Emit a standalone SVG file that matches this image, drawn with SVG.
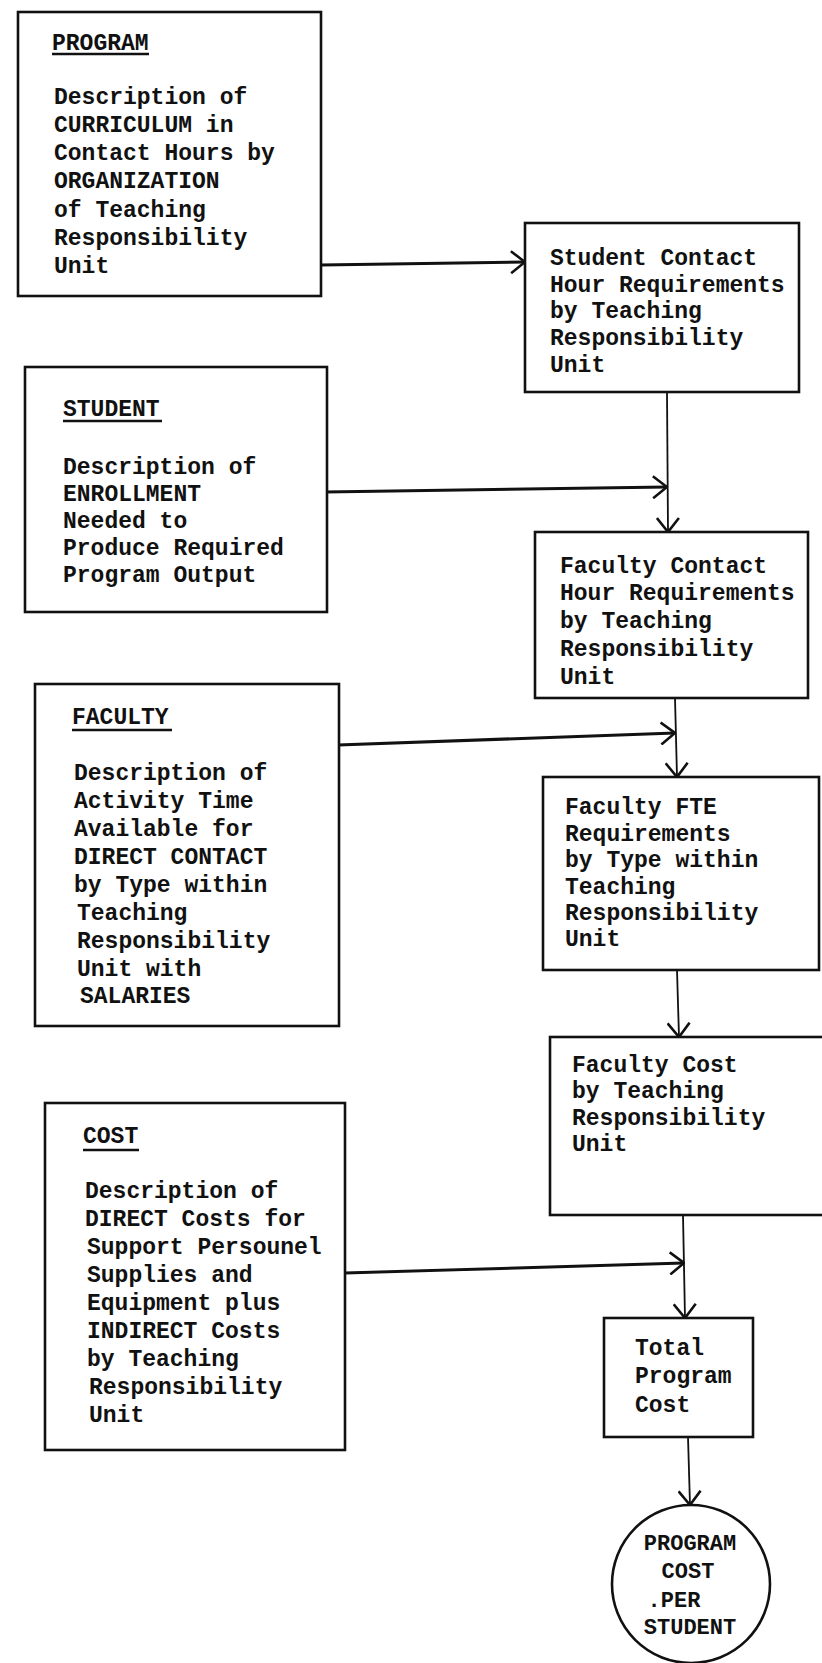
<svg xmlns="http://www.w3.org/2000/svg" width="822" height="1663" viewBox="0 0 822 1663">
<defs>
<style>
.box{fill:#fff;stroke:#111;stroke-width:2.6}
.t{font-family:"Liberation Mono","Courier New",monospace;font-weight:bold;font-size:23px;fill:#111}
.c{font-family:"Liberation Mono","Courier New",monospace;font-weight:bold;font-size:22px;fill:#111;text-anchor:middle}
.ul{stroke:#111;stroke-width:2.5}
.h{fill:none;stroke:#111;stroke-width:3}
.v{fill:none;stroke:#111;stroke-width:1.8}
</style>
<marker id="ah" viewBox="0 0 16 24" refX="15" refY="12" markerWidth="16" markerHeight="24" markerUnits="userSpaceOnUse" orient="auto">
<path d="M1,1 L15,12 L1,23" fill="none" stroke="#111" stroke-width="2.6"/>
</marker>
</defs>
<rect width="822" height="1663" fill="#fff"/>
<g id="connectors">
<line class="h" x1="321" y1="265" x2="525" y2="262" marker-end="url(#ah)"/>
<line class="v" x1="667" y1="392" x2="668" y2="532" marker-end="url(#ah)"/>
<line class="h" x1="325" y1="492" x2="667" y2="487" marker-end="url(#ah)"/>
<line class="v" x1="675" y1="698" x2="677" y2="777" marker-end="url(#ah)"/>
<line class="h" x1="338" y1="745" x2="675" y2="733" marker-end="url(#ah)"/>
<line class="v" x1="677" y1="970" x2="679" y2="1037" marker-end="url(#ah)"/>
<line class="v" x1="683" y1="1215" x2="685" y2="1318" marker-end="url(#ah)"/>
<line class="h" x1="345" y1="1273" x2="684" y2="1263" marker-end="url(#ah)"/>
<line class="v" x1="688" y1="1437" x2="690" y2="1505" marker-end="url(#ah)"/>
</g>
<g id="program">
<rect class="box" x="18" y="12" width="303" height="284"/>
<text class="t" x="52" y="50">PROGRAM</text>
<line class="ul" x1="52" y1="54" x2="149" y2="54"/>
<text class="t" x="54" y="104">Description of</text>
<text class="t" x="54" y="132">CURRICULUM in</text>
<text class="t" x="54" y="160">Contact Hours by</text>
<text class="t" x="54" y="188">ORGANIZATION</text>
<text class="t" x="54" y="217">of Teaching</text>
<text class="t" x="54" y="245">Responsibility</text>
<text class="t" x="54" y="273">Unit</text>
</g>
<g id="student-contact">
<rect class="box" x="525" y="223" width="274" height="169"/>
<text class="t" x="550" y="265">Student Contact</text>
<text class="t" x="550" y="292">Hour Requirements</text>
<text class="t" x="550" y="318">by Teaching</text>
<text class="t" x="550" y="345">Responsibility</text>
<text class="t" x="550" y="372">Unit</text>
</g>
<g id="student">
<rect class="box" x="25" y="367" width="302" height="245"/>
<text class="t" x="63" y="416">STUDENT</text>
<line class="ul" x1="63" y1="421" x2="162" y2="421"/>
<text class="t" x="63" y="474">Description of</text>
<text class="t" x="63" y="501">ENROLLMENT</text>
<text class="t" x="63" y="528">Needed to</text>
<text class="t" x="63" y="555">Produce Required</text>
<text class="t" x="63" y="582">Program Output</text>
</g>
<g id="faculty-contact">
<rect class="box" x="535" y="532" width="273" height="166"/>
<text class="t" x="560" y="573">Faculty Contact</text>
<text class="t" x="560" y="600">Hour Requirements</text>
<text class="t" x="560" y="628">by Teaching</text>
<text class="t" x="560" y="656">Responsibility</text>
<text class="t" x="560" y="684">Unit</text>
</g>
<g id="faculty">
<rect class="box" x="35" y="684" width="304" height="342"/>
<text class="t" x="72" y="724">FACULTY</text>
<line class="ul" x1="72" y1="730" x2="172" y2="730"/>
<text class="t" x="74" y="780">Description of</text>
<text class="t" x="74" y="808">Activity Time</text>
<text class="t" x="74" y="836">Available for</text>
<text class="t" x="74" y="864">DIRECT CONTACT</text>
<text class="t" x="74" y="892">by Type within</text>
<text class="t" x="77" y="920">Teaching</text>
<text class="t" x="77" y="948">Responsibility</text>
<text class="t" x="77" y="976">Unit with</text>
<text class="t" x="80" y="1003">SALARIES</text>
</g>
<g id="faculty-fte">
<rect class="box" x="543" y="777" width="276" height="193"/>
<text class="t" x="565" y="814">Faculty FTE</text>
<text class="t" x="565" y="841">Requirements</text>
<text class="t" x="565" y="867">by Type within</text>
<text class="t" x="565" y="894">Teaching</text>
<text class="t" x="565" y="920">Responsibility</text>
<text class="t" x="565" y="946">Unit</text>
</g>
<g id="faculty-cost">
<rect class="box" x="550" y="1037" width="280" height="178"/>
<text class="t" x="572" y="1072">Faculty Cost</text>
<text class="t" x="572" y="1098">by Teaching</text>
<text class="t" x="572" y="1125">Responsibility</text>
<text class="t" x="572" y="1151">Unit</text>
</g>
<g id="cost">
<rect class="box" x="45" y="1103" width="300" height="347"/>
<text class="t" x="83" y="1143">COST</text>
<line class="ul" x1="83" y1="1150" x2="139" y2="1150"/>
<text class="t" x="85" y="1198">Description of</text>
<text class="t" x="85" y="1226">DIRECT Costs for</text>
<text class="t" x="87" y="1254">Support Persounel</text>
<text class="t" x="87" y="1282">Supplies and</text>
<text class="t" x="87" y="1310">Equipment plus</text>
<text class="t" x="87" y="1338">INDIRECT Costs</text>
<text class="t" x="87" y="1366">by Teaching</text>
<text class="t" x="89" y="1394">Responsibility</text>
<text class="t" x="89" y="1422">Unit</text>
</g>
<g id="total">
<rect class="box" x="604" y="1318" width="149" height="119"/>
<text class="t" x="635" y="1355">Total</text>
<text class="t" x="635" y="1383">Program</text>
<text class="t" x="635" y="1412">Cost</text>
</g>
<g id="per-student">
<circle class="box" cx="691" cy="1584" r="79"/>
<text class="c" x="690" y="1550">PROGRAM</text>
<text class="c" x="688" y="1578">COST</text>
<text class="c" x="674" y="1607">.PER</text>
<text class="c" x="690" y="1634">STUDENT</text>
</g>
</svg>
